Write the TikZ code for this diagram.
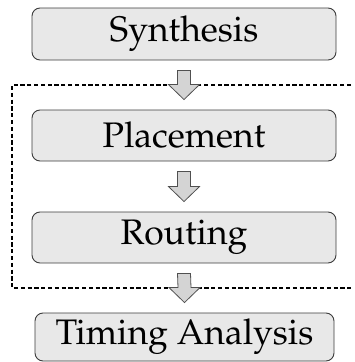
\documentclass[tikz,border=0pt]{standalone}
\usepackage[T1]{fontenc}
\usepackage{mathpazo}
\usetikzlibrary{calc}
\definecolor{stagefill}{RGB}{232,232,232}
\definecolor{stageline}{RGB}{60,60,60}
\definecolor{arrowfill}{RGB}{212,212,212}
\definecolor{arrowline}{RGB}{80,80,80}
\tikzset{
  stage/.style={draw=stageline, fill=stagefill, line width=0.9pt,
    rounded corners=8pt, minimum height=52pt, inner sep=0pt,
    font=\fontsize{35.5}{40}\selectfont},
  flowarrow/.style={draw=arrowline, fill=arrowfill, line width=0.8pt, line join=miter},
  region/.style={line width=1.8pt, dash pattern=on 4.2pt off 2.6pt}
}
% hollow block arrow from the bottom of one stage to the top of the next
\newcommand{\stagearrow}[2]{%
  \draw[flowarrow]
    ($(#1.south)+(-6.5,10)$) -- ($(#2.north)+(-6.5,-25)$)
    -- ($(#2.north)+(-15.5,-25)$) -- ($(#2.north)+(0,-10)$)
    -- ($(#2.north)+(15.5,-25)$) -- ($(#2.north)+(6.5,-25)$)
    -- ($(#1.south)+(6.5,10)$) -- cycle;}
\begin{document}
\begin{tikzpicture}[x=1pt,y=-1pt]
  \useasboundingbox (0,0) rectangle (354,362);
  % flow stages
  \node[stage, minimum width=304pt] (syn) at (184,34) {Synthesis};
  \node[stage, minimum width=304pt, minimum height=51pt] (place) at (184,135.5) {Placement};
  \node[stage, minimum width=304pt, minimum height=51pt] (route) at (184,237.5) {Routing};
  \node[stage, minimum width=299pt, minimum height=48pt] (sta) at (184.5,337) {Timing Analysis};
  % physical design region, open on the right
  \coordinate (rtop) at (351,85);
  \coordinate (rbot) at (351,288);
  \draw[region] (rtop) -- (12,85) -- (12,288) -- (rbot);
  % arrows between stages
  \stagearrow{syn}{place}
  \stagearrow{place}{route}
  \stagearrow{route}{sta}
\end{tikzpicture}
\end{document}
